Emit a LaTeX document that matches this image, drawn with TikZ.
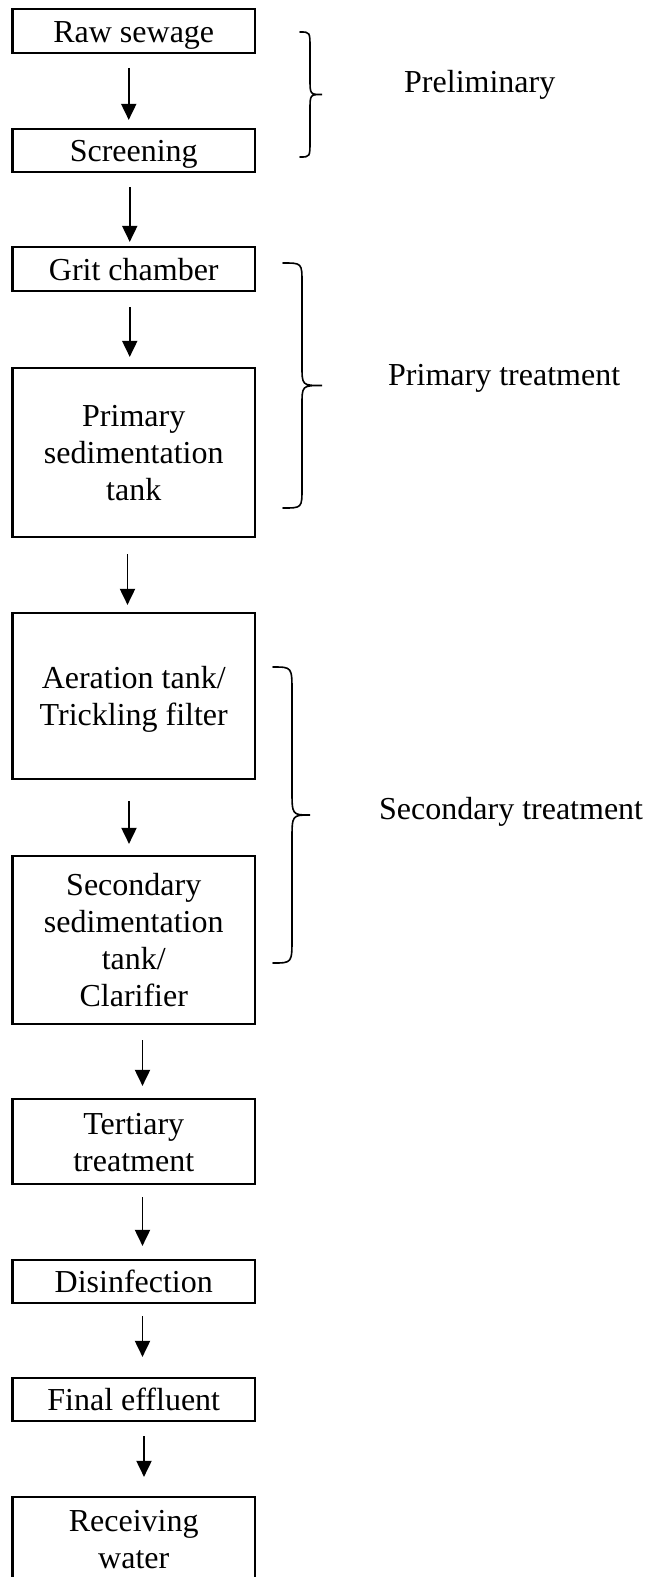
\documentclass[tikz,border=0pt]{standalone}
\usepackage{fontspec}
\setmainfont{Liberation Serif}
\usetikzlibrary{arrows.meta}
\newcommand{\phasebrace}[7]{\draw[bracepath] (#1,#4) .. controls (#2,#4) .. (#2,{#4+#7}) -- (#2,{#5-#7}) .. controls (#2,#5) .. (#3,#5) .. controls (#2,#5) .. (#2,{#5+#7}) -- (#2,{#6-#7}) .. controls (#2,#6) .. (#1,#6);}
\begin{document}
\begin{tikzpicture}[x=1pt,y=-1pt,
  stagebox/.style={draw, line width=2.2pt, minimum width=242.5pt, inner sep=0pt, align=center, text depth=0pt, font=\fontsize{32}{37}\selectfont},
  oneline/.style={text height=22pt},
  twolines/.style={text height=59pt},
  threelines/.style={text height=96pt},
  fourlines/.style={text height=133pt},
  flow/.style={line width=1.9pt, -{Triangle[length=16pt,width=15pt]}},
  bracepath/.style={line width=1.6pt, line cap=round},
  phaselabel/.style={inner sep=0pt, anchor=west, font=\fontsize{32}{37}\selectfont}
]
\useasboundingbox (0,0) rectangle (654,1577);
\fill[white] (0,0) rectangle (654,1577);

\node[stagebox, oneline, minimum height=43.4pt] (raw) at (133.75,31) {Raw sewage};
\node[stagebox, oneline, minimum height=43pt] (scr) at (133.75,150.5) {Screening};
\node[stagebox, oneline, minimum height=44pt] (grit) at (133.75,269) {Grit chamber};
\node[stagebox, threelines, minimum height=169pt] (prim) at (133.75,452.5) {Primary\\sedimentation\\tank};
\node[stagebox, twolines, minimum height=166pt] (aer) at (133.75,696) {Aeration tank/\\Trickling filter};
\node[stagebox, fourlines, minimum height=168pt] (sec) at (133.75,940) {Secondary\\sedimentation\\tank/\\Clarifier};
\node[stagebox, twolines, minimum height=85pt] (ter) at (133.75,1141.5) {Tertiary\\treatment};
\node[stagebox, oneline, minimum height=43pt] (dis) at (133.75,1281.5) {Disinfection};
\node[stagebox, oneline, minimum height=43pt] (fin) at (133.75,1399.5) {Final effluent};
\node[stagebox, twolines, minimum height=83pt] (rec) at (133.75,1538.5) {Receiving\\water};

\draw[flow] ([xshift=-5pt,yshift=-14pt]raw.south) -- ([xshift=-5pt,yshift=8pt]scr.north);
\draw[flow] ([xshift=-4pt,yshift=-14pt]scr.south) -- ([xshift=-4pt,yshift=4pt]grit.north);
\draw[flow] ([xshift=-4pt,yshift=-15pt]grit.south) -- ([xshift=-4pt,yshift=10pt]prim.north);
\draw[flow] ([xshift=-6.25pt,yshift=-16pt]prim.south) -- ([xshift=-6.25pt,yshift=7pt]aer.north);
\draw[flow] ([xshift=-4.75pt,yshift=-21pt]aer.south) -- ([xshift=-4.75pt,yshift=11pt]sec.north);
\draw[flow] ([xshift=8.75pt,yshift=-15pt]sec.south) -- ([xshift=8.75pt,yshift=12pt]ter.north);
\draw[flow] ([xshift=8.75pt,yshift=-12pt]ter.south) -- ([xshift=8.75pt,yshift=13pt]dis.north);
\draw[flow] ([xshift=8.75pt,yshift=-12pt]dis.south) -- ([xshift=8.75pt,yshift=20pt]fin.north);
\draw[flow] ([xshift=10.25pt,yshift=-14pt]fin.south) -- ([xshift=10.25pt,yshift=19pt]rec.north);

\phasebrace{300}{310}{322}{32}{94.5}{157}{16}
\phasebrace{283}{302}{322}{263}{385.5}{508}{20}
\phasebrace{273}{292}{310}{667}{815}{963}{25}

\node[phaselabel] (lpre) at (404,85) {Preliminary};
\node[phaselabel] (lprim) at (388,378) {Primary treatment};
\node[phaselabel] (lsec) at (379,812) {Secondary treatment};
\end{tikzpicture}
\end{document}
